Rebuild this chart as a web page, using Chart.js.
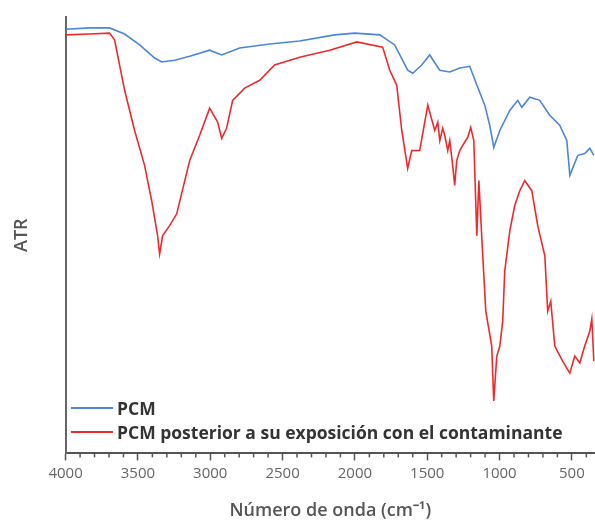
<!DOCTYPE html>
<html>
<head>
<meta charset="utf-8">
<script src="https://cdn.jsdelivr.net/npm/chart.js@4/dist/chart.umd.min.js"></script>
<style>
  body { margin: 0; background: #fff; }
  #wrap { position: relative; width: 595px; height: 522px; }
  #legend { position: absolute; left: 71px; top: 396px; font-family: "Open Sans", "DejaVu Sans", sans-serif; font-weight: bold; font-size: 17.5px; color: #333; }
  #legend div { height: 24px; display: flex; align-items: center; }
  #legend span.ln { display: inline-block; width: 42px; height: 2px; margin-right: 4px; }
</style>
</head>
<body>
<div id="wrap">
  <canvas id="c" width="595" height="522"></canvas>
  <div id="legend"></div>
</div>
<script>
// numero de onda (cm-1) y ATR
const pcmX = [4000, 3834, 3696, 3592, 3488, 3384, 3336, 3246, 3142, 3004, 2921, 2797, 2589, 2382, 2140, 2001, 1828, 1725, 1635, 1600, 1538, 1483, 1413, 1344, 1275, 1206, 1157, 1102, 1068, 1040, 998, 929, 874, 846, 791, 722, 653, 584, 535, 514, 459, 411, 376, 348];
const pcmY = [97.2, 97.5, 97.5, 96.1, 93.6, 90.6, 89.7, 90.1, 91.0, 92.4, 91.3, 92.9, 93.8, 94.5, 95.9, 96.3, 95.9, 93.6, 87.8, 87.1, 89.0, 91.3, 87.8, 87.4, 88.3, 88.7, 84.4, 79.8, 75.2, 70.1, 74.0, 78.6, 80.9, 79.3, 81.6, 80.9, 77.5, 75.2, 71.7, 63.7, 68.3, 68.7, 69.9, 68.3];

const expX = [4000, 3834, 3696, 3661, 3592, 3523, 3454, 3405, 3364, 3350, 3329, 3281, 3232, 3142, 3073, 3004, 2949, 2921, 2887, 2845, 2762, 2658, 2555, 2382, 2174, 1987, 1808, 1759, 1711, 1676, 1635, 1607, 1552, 1496, 1448, 1427, 1413, 1393, 1379, 1358, 1344, 1324, 1310, 1296, 1275, 1254, 1234, 1220, 1199, 1178, 1157, 1143, 1116, 1095, 1054, 1040, 1019, 998, 978, 964, 929, 895, 860, 826, 777, 736, 687, 667, 646, 618, 563, 514, 480, 445, 411, 376, 362, 348];
const expY = [95.9, 96.1, 96.3, 94.7, 83.2, 74.0, 66.0, 57.9, 49.9, 45.7, 49.9, 52.2, 54.9, 67.1, 72.9, 79.1, 75.9, 72.2, 74.5, 80.9, 83.7, 85.5, 89.0, 90.8, 92.4, 94.3, 93.1, 87.8, 84.4, 74.0, 65.3, 69.4, 69.4, 79.8, 74.0, 75.9, 71.7, 74.5, 72.9, 69.4, 71.7, 66.0, 61.4, 67.1, 69.4, 70.6, 71.7, 72.4, 74.7, 71.7, 49.9, 62.5, 45.3, 32.6, 24.6, 12.0, 22.3, 24.6, 30.3, 41.8, 51.0, 56.8, 60.2, 62.5, 60.2, 52.2, 45.3, 32.6, 34.9, 24.6, 21.1, 18.4, 22.3, 20.7, 24.6, 28.0, 30.8, 21.1];

const seriesLabels = ["PCM", "PCM posterior a su exposición con el contaminante"];
const seriesColors = ["#4a86dc", "#ec2a2e"];
const xTicks = [4000, 3500, 3000, 2500, 2000, 1500, 1000, 500];

function toPoints(xs, ys) {
    return xs.map((x, i) => ({ x: x, y: ys[i] }));
}

// ticks menores cada 100 cm-1
const minorTicks = {
    id: 'minorTicks',
    afterDraw(chart) {
        const sx = chart.scales.x;
        const ctx = chart.ctx;
        const y0 = chart.chartArea.bottom;
        ctx.save();
        ctx.strokeStyle = '#555';
        ctx.lineWidth = 1.5;
        for (let v = 400; v <= 4000; v += 100) {
            if (v % 500 === 0) continue;
            const px = sx.getPixelForValue(v);
            ctx.beginPath();
            ctx.moveTo(px, y0);
            ctx.lineTo(px, y0 + 4);
            ctx.stroke();
        }
        ctx.restore();
    }
};

new Chart(document.getElementById('c'), {
    type: 'line',
    data: {
        datasets: [
            { label: seriesLabels[0], data: toPoints(pcmX, pcmY), borderColor: seriesColors[0], borderWidth: 1.6, pointRadius: 0, tension: 0 },
            { label: seriesLabels[1], data: toPoints(expX, expY), borderColor: seriesColors[1], borderWidth: 1.6, pointRadius: 0, tension: 0 }
        ]
    },
    options: {
        responsive: false,
        animation: false,
        layout: { padding: { top: 17, right: 0, left: 6, bottom: 0 } },
        plugins: { legend: { display: false }, tooltip: { enabled: false } },
        scales: {
            x: {
                type: 'linear',
                reverse: true,
                min: 340,
                max: 4000,
                afterBuildTicks: (axis) => { axis.ticks = xTicks.map(v => ({ value: v })); },
                grid: { drawOnChartArea: false, tickLength: 7, tickWidth: 1.5, tickColor: '#555' },
                border: { color: '#555', width: 2 },
                ticks: { color: '#666', font: { family: 'Open Sans', size: 15 }, padding: 4, maxRotation: 0, callback: (v) => String(v) },
                title: { display: true, text: 'Número de onda (cm⁻¹)', color: '#555', font: { family: 'Open Sans', size: 18, weight: '600' }, padding: { top: 14, bottom: 0 } }
            },
            y: {
                min: 0,
                max: 100,
                grid: { drawOnChartArea: false, drawTicks: false },
                border: { color: '#666', width: 2 },
                ticks: { display: false },
                title: { display: true, text: 'ATR', color: '#555', font: { family: 'Open Sans', size: 18, weight: '600' }, padding: { top: 5, bottom: 33 } }
            }
        }
    },
    plugins: [minorTicks]
});

const legend = document.getElementById('legend');
seriesLabels.forEach((name, i) => {
    const row = document.createElement('div');
    row.innerHTML = `<span class="ln" style="background:${seriesColors[i]}"></span>${name}`;
    legend.appendChild(row);
});
</script>
</body>
</html>
